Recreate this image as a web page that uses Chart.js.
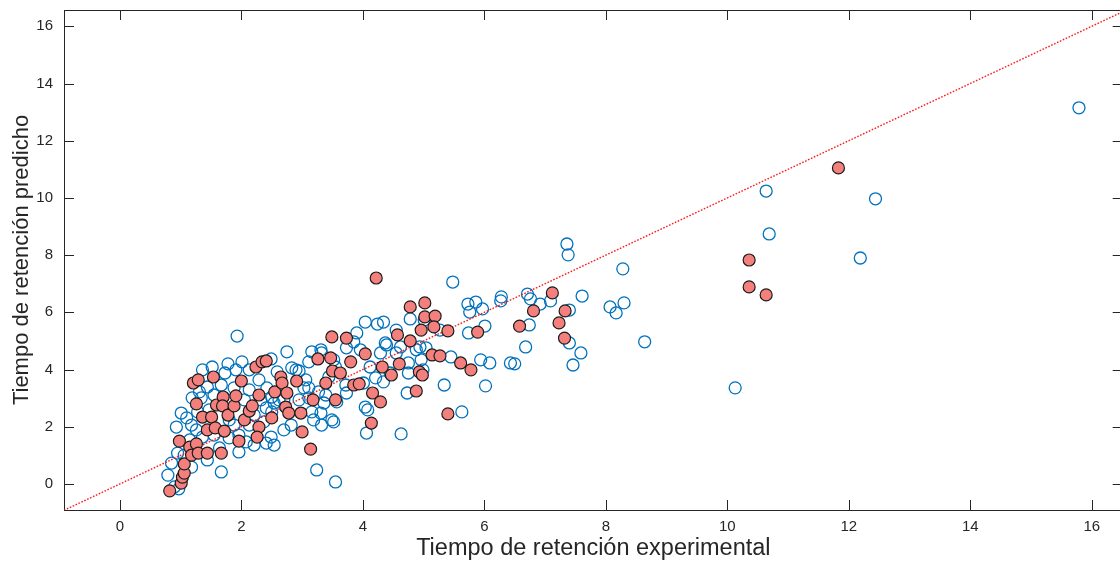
<!DOCTYPE html>
<html>
<head>
<meta charset="utf-8">
<script src="https://cdn.jsdelivr.net/npm/chart.js@4.4.1/dist/chart.umd.min.js"></script>
<style>
  html, body { margin:0; padding:0; background:#fff; overflow:hidden; }
  #wrap { width:1130px; height:563px; }
</style>
</head>
<body>
<div id="wrap"><canvas id="rt-chart" width="1130" height="563"></canvas></div>
<script>
'use strict';

/* Axis limits and tick labels */
const X_MIN = -0.92, X_MAX = 16.51;
const Y_MIN = -0.91, Y_MAX = 16.57;
const X_TICKS = [0, 2, 4, 6, 8, 10, 12, 14, 16];
const Y_TICKS = [0, 2, 4, 6, 8, 10, 12, 14, 16];
const SERIES = ['Entrenamiento', 'Prueba', 'Ideal'];

/* Training set (open blue circles) */
const trainX = [1.93,2.75,3.16,2.49,2.01,1.78,1.52,1.36,1.73,1.91,2.13,2.83,2.95,3.11,3.32,3.06,3.11,1.67,1.44,1.31,
  1.19,1.34,2.13,2.42,2.54,2.62,3.27,3.36,3.16,3.31,3.57,3.49,1.01,1.10,0.93,1.18,1.26,1.36,1.55,1.80,
  1.96,2.08,2.21,2.49,2.54,1.96,1.67,0.95,0.85,0.79,0.90,0.97,1.18,3.24,3.55,3.55,3.44,3.31,3.85,3.90,
  3.73,3.96,4.29,4.37,2.90,2.50,2.41,3.03,3.11,3.39,3.73,3.72,4.01,4.21,4.34,4.04,4.08,3.19,3.32,3.52,
  4.06,2.41,4.45,4.12,3.52,2.70,2.50,1.55,1.77,1.88,2.21,2.32,2.37,2.70,2.82,1.47,1.15,1.06,1.44,1.80,
  2.05,2.29,2.59,1.28,1.88,2.13,1.64,2.95,5.48,5.73,5.86,5.76,5.97,6.28,6.27,4.78,5.01,6.01,5.74,5.27,
  4.55,4.34,4.39,4.62,4.55,4.88,4.94,5.04,4.75,4.96,5.45,5.94,6.09,6.43,4.75,4.99,5.34,6.02,4.73,5.63,
  4.63,4.04,4.24,6.50,6.68,6.71,6.74,6.76,6.92,7.09,7.36,7.38,7.40,7.40,7.46,7.59,7.61,8.07,8.17,8.28,
  8.30,8.64,10.13,10.64,10.69,12.19,12.44,15.79];
const trainY = [5.17,4.62,4.62,4.37,4.27,4.20,4.09,3.99,3.88,3.99,3.99,4.06,3.95,4.27,4.58,3.64,3.36,3.46,3.39,3.22,
  3.01,3.01,3.29,3.36,2.83,2.94,3.22,2.83,2.52,2.48,2.87,2.24,2.48,2.31,1.99,2.06,1.89,1.64,1.71,1.61,
  1.71,1.47,1.36,1.64,1.36,1.12,0.42,1.08,0.73,0.31,-0.10,-0.17,0.59,0.49,0.07,4.09,3.74,4.69,4.97,5.28,
  4.76,4.69,4.58,4.93,3.99,3.04,2.66,3.36,3.01,3.11,3.18,3.46,3.53,3.71,3.57,2.69,2.59,2.24,2.06,2.17,
  1.78,1.43,3.88,4.09,4.34,2.94,2.52,3.11,2.94,2.06,2.41,2.94,2.17,1.89,2.06,2.59,1.54,1.01,0.84,2.24,
  2.94,3.64,3.92,2.52,3.36,2.06,1.26,2.94,7.06,6.29,6.36,6.01,6.12,6.54,6.40,5.77,5.73,5.52,5.28,5.38,
  5.38,5.66,4.86,4.79,4.58,4.69,4.79,4.76,4.23,4.34,4.44,4.34,4.23,4.23,3.88,3.99,3.46,3.43,3.18,2.52,
  1.75,5.66,5.59,4.20,4.79,6.64,5.56,6.47,6.29,6.40,8.39,8.01,6.08,4.93,4.16,4.58,6.57,6.19,5.98,7.52,
  6.33,4.97,3.36,10.24,8.74,7.90,9.97,13.15];

/* Test set (filled red circles) */
const testX = [0.82,1.01,1.03,1.06,1.06,0.98,1.15,1.26,1.18,1.29,1.44,1.67,1.96,1.21,1.29,1.54,1.26,1.36,1.51,1.44,
  1.57,1.72,1.59,1.70,1.69,1.78,1.88,1.91,2.00,2.05,2.13,2.18,2.24,2.34,2.29,2.29,2.26,2.55,2.50,2.65,
  2.67,2.73,2.75,2.78,2.91,2.98,3.00,3.14,3.18,3.26,3.39,3.49,3.47,3.50,3.55,3.63,3.73,3.80,3.85,3.94,
  4.04,4.14,4.16,4.22,4.29,4.32,4.47,4.57,4.60,4.78,4.78,4.88,4.93,4.98,4.96,5.02,5.02,5.19,5.17,5.14,
  5.27,5.40,5.40,5.61,5.78,5.89,6.58,6.81,7.12,7.23,7.32,7.33,10.36,10.36,10.64,11.83,2.41];
const testY = [-0.24,0.03,0.24,0.38,0.70,1.50,1.29,1.40,1.01,1.08,1.08,1.08,1.50,3.53,3.64,3.74,2.80,2.34,2.34,1.89,
  1.96,1.85,2.76,3.04,2.73,2.41,2.73,3.08,3.60,2.24,2.55,2.73,4.09,4.27,3.11,1.99,1.64,3.22,2.31,3.74,
  3.53,2.69,3.18,2.48,3.60,2.48,1.82,1.22,2.94,4.37,3.53,5.14,4.41,3.95,2.94,3.88,5.10,4.27,3.46,3.50,
  4.55,2.13,3.18,7.20,2.87,4.09,3.81,5.21,4.20,6.19,5.00,3.25,3.92,3.81,5.38,6.33,5.84,5.87,5.49,4.51,
  4.48,5.35,2.45,4.23,3.99,5.31,5.52,6.05,6.68,5.63,5.10,6.05,7.83,6.89,6.61,11.05,4.30];

(function () {
  const INK = '#262626';
  const FONT = "'Liberation Sans', Arial, Helvetica, sans-serif";
  const TICK_LEN = 10;

  const pts = (xs, ys) => xs.map((x, i) => ({ x, y: ys[i] }));

  /* MATLAB-style box with inward ticks on all four sides */
  const boxFrame = {
    id: 'boxFrame',
    beforeDatasetsDraw(chart) {
      const { ctx, chartArea: a, scales: { x, y } } = chart;
      ctx.save();
      ctx.strokeStyle = INK;
      ctx.lineWidth = 1;
      ctx.beginPath();
      X_TICKS.forEach(v => {
        const px = Math.round(x.getPixelForValue(v)) + 0.5;
        ctx.moveTo(px, a.bottom); ctx.lineTo(px, a.bottom - TICK_LEN);
        ctx.moveTo(px, a.top);    ctx.lineTo(px, a.top + TICK_LEN);
      });
      Y_TICKS.forEach(v => {
        const py = Math.round(y.getPixelForValue(v)) + 0.5;
        ctx.moveTo(a.left, py);  ctx.lineTo(a.left + TICK_LEN, py);
        ctx.moveTo(a.right, py); ctx.lineTo(a.right - TICK_LEN, py);
      });
      ctx.stroke();
      ctx.strokeRect(a.left + 0.5, a.top + 0.5, a.right - a.left, a.bottom - a.top);
      ctx.restore();
    }
  };

  function build() {
    const canvas = document.getElementById('rt-chart');
    new Chart(canvas, {
      type: 'scatter',
      data: {
        datasets: [
          { label: SERIES[1], data: pts(testX, testY), order: 0,
            backgroundColor: '#F4807E', borderColor: '#1c1c1c', borderWidth: 1.2, pointRadius: 6 },
          { label: SERIES[2], type: 'line', order: 1,
            data: [{ x: X_MIN, y: X_MIN }, { x: X_MAX, y: X_MAX }],
            borderColor: '#FF1a1a', borderWidth: 1.4, borderDash: [1.6, 1.6], pointRadius: 0, fill: false },
          { label: SERIES[0], data: pts(trainX, trainY), order: 2,
            backgroundColor: 'rgba(0,0,0,0)', borderColor: '#0072BD', borderWidth: 1.3, pointRadius: 6 },
        ],
      },
      options: {
        responsive: false,
        animation: false,
        devicePixelRatio: 1,
        layout: { padding: { top: 10, right: 1, left: 0, bottom: 0 } },
        plugins: { legend: { display: false }, tooltip: { enabled: false } },
        scales: {
          x: {
            type: 'linear', min: X_MIN, max: X_MAX,
            afterBuildTicks: s => { s.ticks = X_TICKS.map(v => ({ value: v })); },
            afterFit: s => { s.height = 53; s.paddingLeft = 0; s.paddingRight = 0; },
            grid: { display: false, drawTicks: false },
            border: { display: false },
            ticks: { color: INK, font: { family: FONT, size: 15 }, padding: 8, maxRotation: 0 },
            title: { display: true, text: 'Tiempo de retención experimental', color: INK,
                     font: { family: FONT, size: 23.5 }, padding: 0 },
          },
          y: {
            type: 'linear', min: Y_MIN, max: Y_MAX,
            afterBuildTicks: s => { s.ticks = Y_TICKS.map(v => ({ value: v })); },
            afterFit: s => { s.width = 64; s.paddingTop = 0; s.paddingBottom = 0; },
            grid: { display: false, drawTicks: false },
            border: { display: false },
            ticks: { color: INK, font: { family: FONT, size: 15 }, padding: 11 },
            title: { display: true, text: 'Tiempo de retención predicho', color: INK,
                     font: { family: FONT, size: 22 }, padding: { top: 9, bottom: 0 } },
          },
        },
      },
      plugins: [boxFrame],
    });
  }

  build();
})();
</script>
</body>
</html>
